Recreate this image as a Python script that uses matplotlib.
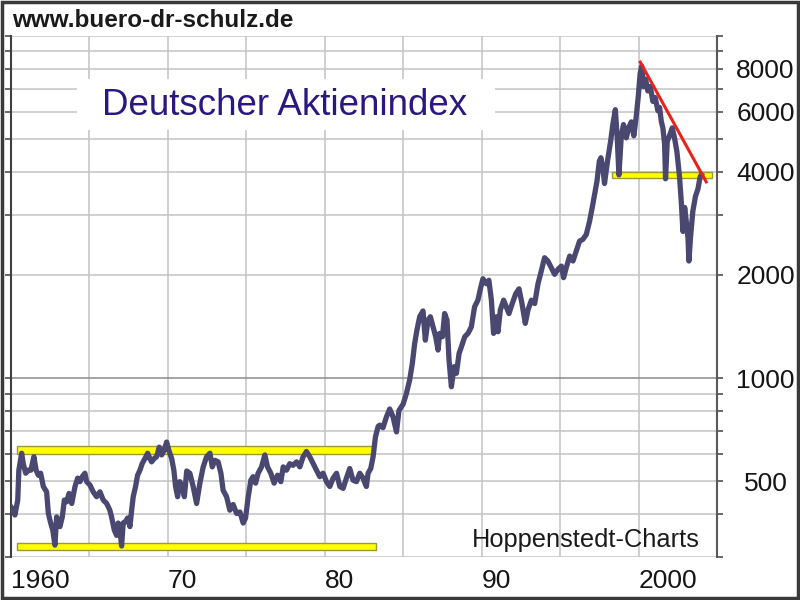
import numpy as np
import matplotlib.pyplot as plt
from matplotlib.patches import Rectangle
from matplotlib.ticker import NullLocator

plt.rcParams['font.family'] = ['Liberation Sans', 'DejaVu Sans']

# DAX-Verlauf (Jahr, Indexpunkte)
jahre = [
    1960.00, 1960.15, 1960.25, 1960.43, 1960.50, 1960.68, 1960.78, 1960.94, 1961.10, 1961.27,
    1961.46, 1961.60, 1961.74, 1961.89, 1962.06, 1962.27, 1962.38, 1962.53, 1962.66, 1962.80,
    1962.91, 1963.01, 1963.12, 1963.27, 1963.40, 1963.55, 1963.70, 1963.87, 1964.08, 1964.25,
    1964.40, 1964.54, 1964.71, 1964.82, 1965.03, 1965.24, 1965.46, 1965.67, 1965.88, 1966.10,
    1966.30, 1966.41, 1966.58, 1966.73, 1966.83, 1966.94, 1967.05, 1967.15, 1967.30, 1967.43,
    1967.58, 1967.69, 1967.79, 1967.94, 1968.07, 1968.22, 1968.36, 1968.54, 1968.71, 1968.85,
    1968.96, 1969.13, 1969.28, 1969.45, 1969.60, 1969.76, 1969.92, 1970.06, 1970.24, 1970.38,
    1970.49, 1970.62, 1970.76, 1970.91, 1971.05, 1971.20, 1971.40, 1971.61, 1971.83, 1972.04,
    1972.25, 1972.47, 1972.68, 1972.83, 1973.00, 1973.20, 1973.38, 1973.52, 1973.74, 1973.95,
    1974.16, 1974.38, 1974.59, 1974.80, 1974.95, 1975.12, 1975.29, 1975.43, 1975.59, 1975.75,
    1975.97, 1976.18, 1976.35, 1976.56, 1976.77, 1976.99, 1977.20, 1977.35, 1977.56, 1977.77,
    1977.98, 1978.20, 1978.41, 1978.62, 1978.83, 1979.04, 1979.26, 1979.47, 1979.68, 1979.89,
    1980.11, 1980.32, 1980.53, 1980.75, 1980.96, 1981.17, 1981.38, 1981.59, 1981.80, 1982.02,
    1982.23, 1982.44, 1982.65, 1982.76, 1982.93, 1983.08, 1983.23, 1983.40, 1983.50, 1983.71,
    1983.93, 1984.14, 1984.35, 1984.57, 1984.73, 1984.99, 1985.20, 1985.41, 1985.58, 1985.73,
    1985.88, 1986.05, 1986.26, 1986.41, 1986.58, 1986.73, 1986.90, 1987.07, 1987.22, 1987.32,
    1987.50, 1987.64, 1987.79, 1987.92, 1988.07, 1988.24, 1988.39, 1988.56, 1988.71, 1988.92,
    1989.13, 1989.34, 1989.55, 1989.76, 1989.92, 1990.08, 1990.30, 1990.46, 1990.62, 1990.76,
    1990.94, 1991.04, 1991.19, 1991.40, 1991.57, 1991.74, 1991.95, 1992.17, 1992.38, 1992.57,
    1992.78, 1992.95, 1993.17, 1993.38, 1993.59, 1993.80, 1994.01, 1994.22, 1994.44, 1994.65,
    1994.86, 1995.08, 1995.22, 1995.39, 1995.61, 1995.82, 1996.03, 1996.24, 1996.45, 1996.67,
    1996.88, 1997.05, 1997.20, 1997.35, 1997.50, 1997.60, 1997.73, 1997.83, 1998.02, 1998.22,
    1998.36, 1998.52, 1998.64, 1998.75, 1998.90, 1999.04, 1999.22, 1999.38, 1999.54, 1999.70,
    1999.85, 1999.99, 2000.10, 2000.20, 2000.32, 2000.45, 2000.59, 2000.75, 2000.91, 2001.06,
    2001.23, 2001.34, 2001.45, 2001.55, 2001.66, 2001.72, 2001.83, 2001.97, 2002.15, 2002.29,
    2002.44, 2002.61, 2002.72, 2002.83, 2002.94, 2003.04, 2003.15, 2003.21, 2003.31, 2003.46,
    2003.63, 2003.78, 2003.93, 2004.00,
]
punkte = [
    420, 411, 398, 440, 538, 603, 562, 527, 538, 538,
    589, 538, 520, 527, 482, 465, 402, 377, 360, 325,
    393, 377, 368, 393, 440, 435, 460, 430, 482, 510,
    498, 515, 527, 498, 487, 465, 450, 465, 440, 430,
    411, 393, 360, 347, 377, 360, 323, 377, 381, 390,
    368, 411, 450, 482, 520, 538, 562, 582, 603, 582,
    569, 582, 589, 628, 596, 615, 650, 615, 582, 538,
    482, 450, 498, 482, 450, 535, 527, 482, 430, 493,
    550, 589, 603, 550, 575, 569, 527, 470, 450, 411,
    427, 402, 406, 377, 390, 450, 503, 515, 493, 527,
    550, 596, 550, 527, 493, 520, 498, 550, 538, 562,
    556, 569, 550, 589, 610, 589, 562, 538, 515, 527,
    498, 482, 510, 527, 482, 476, 510, 544, 503, 498,
    527, 510, 482, 527, 544, 589, 673, 722, 728, 716,
    770, 812, 770, 696, 804, 838, 900, 987, 1103, 1262,
    1385, 1510, 1570, 1290, 1476, 1510, 1410, 1320, 1207, 1350,
    1320, 1543, 1476, 1128, 943, 1079, 1032, 1180, 1234, 1320,
    1350, 1410, 1615, 1688, 1822, 1950, 1885, 1930, 1688, 1350,
    1510, 1365, 1580, 1688, 1615, 1543, 1650, 1762, 1822, 1650,
    1444, 1580, 1688, 1650, 1885, 2054, 2246, 2197, 2099, 2009,
    2077, 2123, 1964, 2099, 2271, 2197, 2350, 2512, 2540, 2627,
    2873, 3152, 3440, 3758, 4300, 4400, 4100, 3700, 4298, 4916,
    5500, 6080, 5030, 3920, 5100, 5500, 5030, 5400, 5600, 5100,
    5800, 6700, 7750, 8150, 7100, 7460, 6900, 7100, 6430, 6600,
    6040, 6170, 5620, 5380, 4830, 3820, 4916, 5100, 5380, 5030,
    4600, 3880, 3290, 2680, 3150, 2873, 2570, 2197, 2570, 3070,
    3400, 3560, 3880, 3920,
]

# gelbe Unterstuetzungs-/Widerstandszonen
zone_von = [1960.4, 1960.4, 1998.33]
zone_bis = [1983.25, 1983.1, 2004.7]
zone_unten = [314, 599, 3850]
zone_oben = [330, 632, 4000]

# rote Abwaertstrendlinie
trend_x = [2000.11, 2004.31]
trend_y = [8370, 3742]

# Achsen
y_gitter = [300, 400, 500, 600, 700, 800, 900, 1000, 2000, 3000, 4000,
            5000, 6000, 7000, 8000, 9000, 10000]
y_beschriftet = {500: '500', 1000: '1000', 2000: '2000', 4000: '4000',
                 6000: '6000', 8000: '8000'}
x_ticks = [1960, 1970, 1980, 1990, 2000]
x_labels = ['1960', '70', '80', '90', '2000']
x_gitter = [1965, 1975, 1985, 1995]

fig = plt.figure(figsize=(8, 6), dpi=100)
ax = fig.add_axes([11 / 800, 43 / 600, 706 / 800, 521.3 / 600])

ax.set_yscale('log')
ax.set_xlim(1960, 2005)
ax.set_ylim(300, 10000)

# Zonen
for x0, x1, lo, hi in zip(zone_von, zone_bis, zone_unten, zone_oben):
    ax.add_patch(Rectangle((x0, lo), x1 - x0, hi - lo, facecolor='#ffff00',
                           edgecolor='#9a9a38', linewidth=1.0, zorder=2))

ax.plot(jahre, punkte, color='#4a4870', linewidth=3.8, solid_joinstyle='round',
        zorder=3)
ax.plot(trend_x, trend_y, color='#e8221a', linewidth=2.2, zorder=4)

# Y-Achse rechts beschriftet
ax.set_yticks(y_gitter, labels=[y_beschriftet.get(v, '') for v in y_gitter])
ax.yaxis.set_minor_locator(NullLocator())
ax.tick_params(axis='y', which='major', left=True, right=True, labelleft=False,
               labelright=True, direction='out', length=4, width=1.2,
               color='#505050', labelsize=19, pad=31, labelcolor='#151515')
plt.setp(ax.get_yticklabels(), ha='center')

ax.set_xticks(x_ticks, labels=x_labels)
ax.set_xticks(x_gitter, minor=True)
ax.tick_params(axis='x', which='both', length=0, labelsize=19, pad=9,
               labelcolor='#151515')
plt.setp(ax.get_xticklabels(), ha='left')

ax.grid(axis='y', which='major', color='#c4c4c4', linewidth=1.1)
ax.grid(axis='x', which='both', color='#cccccc', linewidth=1.3)
for t in ax.yaxis.get_major_ticks():
    if t.get_loc() == 1000:
        t.gridline.set_color('#8c8c8c')

ax.spines['left'].set_color('#404040')
ax.spines['left'].set_linewidth(1.5)
ax.spines['right'].set_color('#5a5a5a')
ax.spines['right'].set_linewidth(1.5)
ax.spines['top'].set_visible(False)
ax.spines['bottom'].set_visible(False)

# weisser Kasten hinter dem Titel
ax.add_patch(Rectangle((0.0935, 0.819), 0.592, 0.098, transform=ax.transAxes,
                       facecolor='white', edgecolor='none', zorder=2.5))
fig.text(285 / 800, 485 / 600, 'Deutscher Aktienindex', ha='center',
         va='baseline', fontsize=26.5, color='#2b1780', zorder=5)

fig.text(12 / 800, 573 / 600, 'www.buero-dr-schulz.de', ha='left',
         va='baseline', fontsize=17.5, fontweight='bold', color='#1a1a1a')
fig.text(700 / 800, 53 / 600, 'Hoppenstedt-Charts', ha='right',
         va='baseline', fontsize=18.3, color='#1a1a1a')

# Rahmen um das Bild
fig.patches.append(Rectangle((0.002, 0.003), 0.996, 0.994, transform=fig.transFigure,
                             fill=False, edgecolor='#3a3a3a', linewidth=2.5))

fig.savefig('out.png', dpi=100)
